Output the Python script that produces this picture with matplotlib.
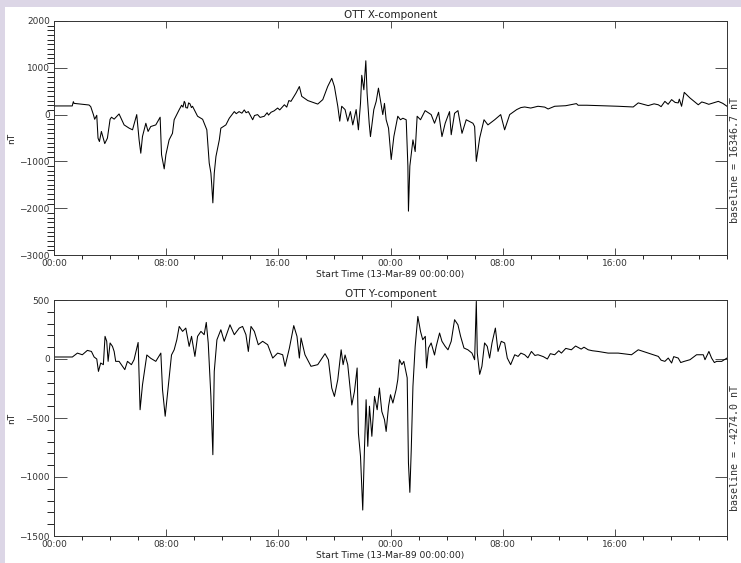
import numpy as np
import matplotlib.pyplot as plt
from matplotlib.ticker import MultipleLocator
from matplotlib.patches import Rectangle

# OTT magnetometer, 13-14 Mar 1989: (hours since 13-Mar-89 00:00, nT)
x_comp = [
    (0.0, 185), (1.3, 185), (1.38, 277), (1.43, 240), (2.5, 205), (2.62, 170), (2.81, 0),
    (2.9, -100), (3.05, -15), (3.14, -503), (3.24, -575), (3.38, -360), (3.62, -620),
    (3.81, -503), (4.0, -100), (4.1, -56), (4.29, -97), (4.64, 14), (5.0, -220), (5.36, -290),
    (5.6, -325), (5.9, 0), (6.07, -540), (6.19, -825), (6.31, -468), (6.55, -185),
    (6.71, -360), (6.9, -255), (7.26, -220), (7.57, -56), (7.67, -857), (7.86, -1160),
    (7.98, -857), (8.21, -540), (8.45, -400), (8.57, -110), (8.93, 105), (9.1, 200),
    (9.2, 160), (9.29, 283), (9.35, 250), (9.4, 150), (9.52, 140), (9.6, 250), (9.7, 230),
    (9.8, 150), (9.88, 178), (10.24, -35), (10.6, -100), (10.9, -325), (11.07, -1035),
    (11.19, -1248), (11.25, -1500), (11.33, -1886), (11.43, -1250), (11.55, -895),
    (11.79, -540), (11.9, -290), (12.26, -220), (12.5, -78), (12.86, 64), (13.0, 20),
    (13.2, 64), (13.4, 30), (13.57, 100), (13.7, 40), (13.86, 64), (14.17, -110),
    (14.3, -20), (14.52, 0), (14.7, -60), (15.0, -35), (15.2, 40), (15.3, -10), (15.48, 50),
    (15.7, 80), (15.95, 140), (16.1, 100), (16.43, 210), (16.6, 160), (16.75, 300),
    (16.9, 283), (17.26, 460), (17.5, 600), (17.67, 390), (18.1, 300), (18.81, 225),
    (19.17, 320), (19.52, 600), (19.81, 775), (20.0, 600), (20.24, 178), (20.38, -140),
    (20.52, 178), (20.76, 107), (20.95, -140), (21.14, 64), (21.31, -220), (21.55, 107),
    (21.71, -325), (21.86, 240), (21.95, 840), (22.1, 530), (22.24, 1150), (22.33, 460),
    (22.48, -185), (22.57, -470), (22.81, 107), (22.98, 283), (23.14, 565), (23.33, 210),
    (23.45, 0), (23.57, 240), (23.69, -110), (23.86, -290), (24.05, -960), (24.24, -468),
    (24.52, -35), (24.71, -110), (24.88, -78), (25.12, -110), (25.24, -1100), (25.28, -2063),
    (25.38, -1100), (25.6, -540), (25.76, -790), (25.9, -35), (26.14, -110), (26.47, 85),
    (26.9, 0), (27.14, -185), (27.43, 50), (27.67, -470), (27.9, -185), (28.21, 64),
    (28.33, -430), (28.57, 28), (28.81, 85), (29.1, -400), (29.4, -110), (29.88, -185),
    (30.0, -255), (30.12, -1000), (30.36, -500), (30.67, -110), (30.95, -220), (31.43, -110),
    (31.86, 0), (32.14, -325), (32.5, 0), (33.0, 107), (33.3, 150), (33.57, 163), (34.0, 140),
    (34.52, 178), (35.0, 160), (35.24, 120), (35.71, 178), (36.5, 190), (37.26, 235),
    (37.38, 200), (38.0, 200), (38.81, 192), (39.5, 185), (40.24, 178), (41.31, 163),
    (41.67, 250), (42.38, 192), (42.8, 230), (43.1, 210), (43.3, 170), (43.57, 283),
    (43.8, 220), (44.05, 320), (44.3, 260), (44.52, 250), (44.6, 330), (44.76, 178),
    (44.95, 475), (45.36, 355), (45.95, 210), (46.2, 270), (46.43, 250), (46.7, 220),
    (47.02, 250), (47.38, 283), (47.7, 240), (48.0, 178),
]

y_comp = [
    (0.0, 17), (1.31, 17), (1.67, 50), (2.02, 36), (2.38, 73), (2.67, 64), (2.86, 17),
    (3.05, 0), (3.17, -105), (3.33, -34), (3.52, -48), (3.64, 192), (3.76, 150), (3.86, -20),
    (4.0, 136), (4.17, 107), (4.29, 64), (4.4, -20), (4.64, -20), (5.05, -90), (5.24, -20),
    (5.52, -48), (5.71, -6), (6.0, 140), (6.14, -430), (6.31, -220), (6.62, 34), (6.9, 6),
    (7.26, -20), (7.62, 50), (7.74, -260), (7.93, -485), (8.1, -290), (8.38, 34), (8.57, 78),
    (8.76, 163), (8.93, 276), (9.17, 234), (9.4, 262), (9.64, 107), (9.81, 192), (10.05, 22),
    (10.24, 192), (10.48, 234), (10.71, 206), (10.86, 310), (11.0, 136), (11.19, -317),
    (11.33, -811), (11.43, -105), (11.62, 163), (11.9, 248), (12.14, 150), (12.55, 290),
    (12.86, 206), (13.21, 262), (13.45, 276), (13.69, 206), (13.86, 64), (14.05, 276),
    (14.29, 234), (14.57, 121), (14.88, 150), (15.24, 121), (15.6, 8), (15.95, 50),
    (16.31, 36), (16.48, -62), (16.79, 93), (17.1, 283), (17.33, 192), (17.5, 8),
    (17.62, 178), (17.9, 36), (18.33, -62), (18.81, -48), (19.33, 45), (19.57, -6),
    (19.81, -246), (20.0, -317), (20.24, -175), (20.48, 78), (20.62, -48), (20.76, 34),
    (20.95, -48), (21.24, -390), (21.43, -275), (21.62, -76), (21.71, -627), (21.86, -825),
    (22.02, -1280), (22.14, -770), (22.26, -345), (22.38, -740), (22.5, -400), (22.67, -655),
    (22.86, -317), (23.05, -430), (23.21, -246), (23.38, -445), (23.57, -514), (23.69, -614),
    (23.86, -401), (24.0, -303), (24.17, -373), (24.4, -260), (24.52, -175), (24.64, -6),
    (24.81, -48), (24.95, -20), (25.19, -160), (25.28, -880), (25.38, -1130), (25.48, -770),
    (25.6, -232), (25.76, 107), (25.95, 361), (26.14, 234), (26.3, 163), (26.48, 192),
    (26.57, -76), (26.71, 93), (26.9, 136), (27.14, 34), (27.26, 107), (27.5, 220),
    (27.67, 150), (27.9, 107), (28.1, 78), (28.33, 150), (28.57, 333), (28.81, 290),
    (29.0, 192), (29.24, 93), (29.52, 78), (29.81, 50), (30.0, -6), (30.12, 488),
    (30.19, 50), (30.36, -130), (30.52, -62), (30.71, 136), (30.9, 107), (31.07, 8),
    (31.24, 136), (31.48, 262), (31.67, 64), (31.9, 150), (32.14, 136), (32.33, 8),
    (32.57, -48), (32.86, 36), (33.1, 22), (33.3, 50), (33.57, 36), (33.8, 10), (34.05, 64),
    (34.3, 30), (34.52, 36), (34.9, 20), (35.19, 0), (35.4, 45), (35.71, 36), (36.0, 70),
    (36.19, 50), (36.5, 90), (36.9, 78), (37.2, 110), (37.6, 84), (37.8, 100), (38.1, 78),
    (38.4, 70), (38.81, 64), (39.52, 50), (40.24, 50), (41.19, 36), (41.67, 78), (42.38, 50),
    (43.1, 22), (43.3, -10), (43.57, -20), (43.81, 8), (44.05, -34), (44.2, 20), (44.52, 8),
    (44.7, -30), (44.95, -20), (45.36, -6), (45.83, 36), (46.31, 36), (46.43, -6),
    (46.71, 64), (46.9, 8), (47.1, -30), (47.26, -20), (47.62, -20), (48.0, 8),
]

tick_hours = [0, 8, 16, 24, 32, 40]
tick_labels = ['00:00', '08:00', '16:00', '00:00', '08:00', '16:00']

W, H = 741, 563
fig = plt.figure(figsize=(W / 100, H / 100), dpi=100, facecolor='#dcd6e6')
fig.patches.append(Rectangle((5 / W, 0), 1, 1 - 7 / H, transform=fig.transFigure,
                             facecolor='white', edgecolor='none', zorder=-5))

def px_axes(left, top, right, bottom):
    return fig.add_axes([left / W, 1 - bottom / H, (right - left) / W, (bottom - top) / H])

panels = [
    (px_axes(54, 21, 727, 255), x_comp, 'OTT X-component', (-3000, 2000), 1000, 100,
     'baseline = 16346.7 nT', 160),
    (px_axes(54, 300, 727, 536), y_comp, 'OTT Y-component', (-1500, 500), 500, 100,
     'baseline = -4274.0 nT', 448),
]

for ax, data, title, ylim, major, minor, base, base_y in panels:
    hrs, vals = zip(*data)
    ax.set_facecolor('white')
    ax.plot(hrs, vals, color='black', lw=0.75)
    ax.set_xlim(0, 48)
    ax.set_ylim(*ylim)
    ax.set_xticks(tick_hours)
    ax.set_xticklabels(tick_labels)
    ax.xaxis.set_minor_locator(MultipleLocator(2))
    ax.yaxis.set_major_locator(MultipleLocator(major))
    ax.yaxis.set_minor_locator(MultipleLocator(minor))
    ax.tick_params(direction='in', top=True, right=True, labelsize=6.5, width=0.6, pad=3,
                   colors='#333333')
    ax.tick_params(axis='x', which='major', length=5)
    ax.tick_params(axis='x', which='minor', length=3, width=0.6)
    ax.tick_params(axis='y', which='major', length=9)
    ax.tick_params(axis='y', which='minor', length=5, width=0.6)
    for s in ax.spines.values():
        s.set_linewidth(0.7)
        s.set_color('#333333')
    ax.set_title(title, fontsize=7.5, pad=2, color='#222222')
    ax.set_xlabel('Start Time (13-Mar-89 00:00:00)', fontsize=6.6, labelpad=1, color='#222222')
    ax.set_ylabel('nT', fontsize=6.5, color='#222222')
    ax.yaxis.set_label_coords(-38 / 673, 0.5)
    fig.text(735 / W, 1 - base_y / H, base, rotation=90, ha='center', va='center',
             fontsize=7.2, family='DejaVu Sans Mono', color='#333333')

fig.savefig('out.png', dpi=100, facecolor=fig.get_facecolor())
